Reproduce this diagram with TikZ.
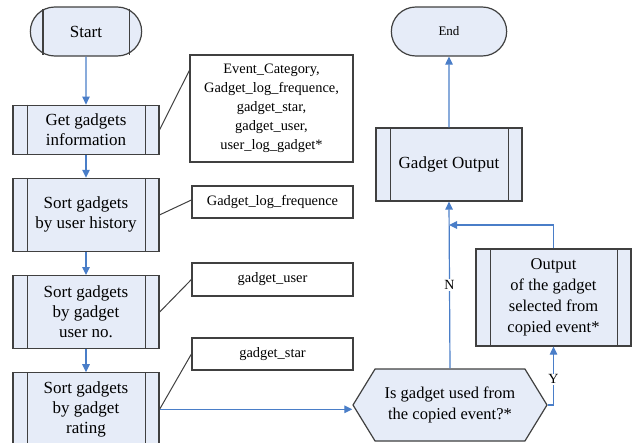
\documentclass[tikz,border=0pt]{standalone}
\usepackage{fontspec}
\setmainfont{Liberation Serif}
\usetikzlibrary{shapes.geometric, shapes.misc, shapes.symbols, arrows.meta, positioning, calc}
\definecolor{cFill}{RGB}{230,236,248}
\definecolor{cFlow}{RGB}{74,126,200}
\definecolor{cEdge}{RGB}{64,64,64}
\tikzset{
	terminal/.style={rounded rectangle, draw=cEdge, line width=1.2pt, fill=cFill, minimum height=49pt, align=center},
	subproc/.style ={rectangle, draw=cEdge, line width=1.2pt, fill=cFill, minimum width=146pt, minimum height=73pt, align=center, font=\fontsize{17}{20}\selectfont},
	note/.style    ={rectangle, draw=cEdge, line width=1.2pt, fill=white, align=center, font=\fontsize{14.4}{19}\selectfont},
	choice/.style  ={signal, signal to=west and east, signal pointer angle=117, draw=cEdge, line width=1.2pt, fill=cFill, minimum width=194pt, minimum height=72pt, align=center, inner sep=1pt, font=\fontsize{16.5}{21}\selectfont},
	flow/.style    ={-{Triangle[length=8pt,width=7.5pt]}, cFlow, line width=1.2pt},
	link/.style    ={cEdge, line width=1pt},
	lbl/.style     ={fill=white, inner sep=1pt, text=black, font=\fontsize{14}{16}\selectfont},
}
\begin{document}
\begin{tikzpicture}[x=1pt, y=-1pt, node distance=23pt]
	\useasboundingbox (0,0) rectangle (632,442);
	% left column
	\node[terminal, minimum width=118pt, font=\fontsize{17}{20}\selectfont] (start) at (86,31.5) {Start};
	\node[subproc, minimum height=49pt, below=48pt of start] (get) {Get gadgets\\information};
	\node[subproc, below=of get] (hist) {Sort gadgets\\by user history};
	\node[subproc, below=of hist] (usern) {Sort gadgets\\by gadget\\user no.};
	\node[subproc, below=of usern] (rate) {Sort gadgets\\by gadget\\rating};
	% notes
	\node[note, minimum width=163pt, minimum height=107pt] (n1) at (271.5,108.5) {Event\_Category,\\Gadget\_log\_frequence,\\gadget\_star,\\gadget\_user,\\user\_log\_gadget*};
	\node[note, minimum width=161pt, minimum height=32pt] (n2) at (272.5,202) {Gadget\_log\_frequence};
	\node[note, minimum width=161pt, minimum height=33pt] (n3) at (272.5,279.5) {gadget\_user};
	\node[note, minimum width=161pt, minimum height=32pt] (n4) at (272.5,354) {gadget\_star};
	% right part
	\node[choice] (dec) at (450,405) {Is gadget used from\\the copied event?*};
	\node[subproc, minimum width=155pt, minimum height=97pt, font=\fontsize{16.5}{21}\selectfont] (outp) at (553.5,297.5) {Output\\of the gadget\\selected from\\copied event*};
	\node[subproc] (gout) at (449,164.5) {Gadget Output};
	\node[terminal, minimum width=122pt, font=\fontsize{13}{15}\selectfont] (end) at (449,31.5) {End};
	\coordinate (merge) at (449,225);
	% side bars
	\draw[cEdge, line width=1.2pt] ($(start.center)+(-43,-23)$) -- ($(start.center)+(-43,23)$) ($(start.center)+(43.5,-23)$) -- ($(start.center)+(43.5,23)$);
	\foreach \n in {get,hist,usern,rate,gout,outp}
		\draw[cEdge, line width=1.2pt] ([xshift=15pt]\n.north west) -- ([xshift=15pt]\n.south west) ([xshift=-14pt]\n.north east) -- ([xshift=-14pt]\n.south east);
	% connectors
	\draw[flow] (start) -- (get); \draw[flow] (get) -- (hist); \draw[flow] (hist) -- (usern); \draw[flow] (usern) -- (rate);
	\draw[link] (get.east) -- ([yshift=-16pt]n1.north west);
	\draw[link] (hist.east) -- ([yshift=2pt]n2.west);
	\draw[link] (usern.east) -- (n3.west);
	\draw[link] (rate.east) -- (n4.west);
	\draw[flow] (rate.east) -- (rate.east -| dec.west);
	\draw[flow] (dec.north) -- node[lbl] {N} (gout.south);
	\draw[flow] (dec.east) -| node[lbl, pos=0.72] {Y} (outp.south);
	\draw[flow] (outp.north) |- (merge);
	\draw[flow] (gout) -- (end);
\end{tikzpicture}
\end{document}
